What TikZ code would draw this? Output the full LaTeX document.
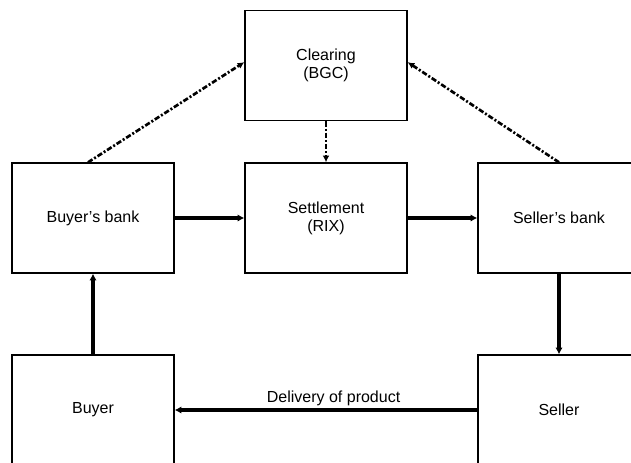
\documentclass[tikz,border=0pt]{standalone}
\usepackage{fontspec}
\setmainfont{Liberation Sans}
\usetikzlibrary{arrows.meta}

\begin{document}
\begin{tikzpicture}[x=0.75pt, y=0.75pt]
\tikzset{n/.style={rectangle, draw=black, line width=1pt, minimum width=121.5pt, minimum height=82.5pt, align=center, font=\fontsize{12}{13.5}\selectfont}, 
f/.style={-{Latex[length=5pt, width=5.5pt]}, line width=3pt},
d/.style={-{Latex[length=5pt, width=5pt]}, line width=2pt, dash pattern=on 4pt off 1.5pt on 1.5pt off 1.5pt}};
\useasboundingbox (0,0) rectangle (631,462);

\node[n] (clr) at (326, 396.5) {Clearing\\(BGC)};
\node[n] (bb) at (93, 244) {Buyer’s bank};
\node[n] (set) at (326, 244) {Settlement\\(RIX)};
\node[n] (sb) at (559, 244) {Seller’s bank};
\node[n] (buyer) at (93, 52) {Buyer};
\node[n] (seller) at (559, 52) {Seller};

\draw[d] ([xshift=-3.75pt]bb.north) to ([yshift=2.5pt]clr.west);
\draw[d] (sb.north) to ([yshift=2.5pt]clr.east);
\draw[d] (clr) to (set);

\foreach \a/\b in {bb/set, set/sb, sb/seller, buyer/bb} {
	\draw[f] (\a) to (\b);
}
\draw[f] (seller) to node[pos=0.475, above, inner sep=2pt, font=\fontsize{12}{13.5}\selectfont] {Delivery of product} (buyer);

\end{tikzpicture}
\end{document}
